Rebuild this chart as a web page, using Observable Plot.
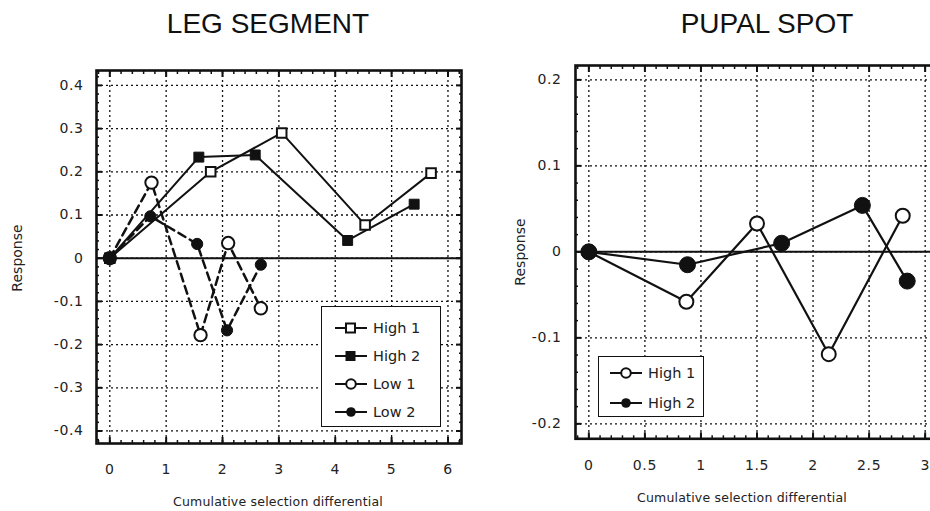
<!DOCTYPE html>
<html><head><meta charset="utf-8">
<script src="https://cdn.jsdelivr.net/npm/d3@7"></script>
<script src="https://cdn.jsdelivr.net/npm/@observablehq/plot@0.6"></script>
<style>
html,body{margin:0;padding:0;background:#fff;}
#wrap{position:relative;width:930px;height:511px;overflow:hidden;background:#fff;font-family:"DejaVu Sans",sans-serif;color:#111;}
.abs{position:absolute;}
.title{font-family:"Liberation Sans",Arial,sans-serif;font-size:28px;color:#111;white-space:nowrap;transform:translateX(-50%);}
.xlab{font-size:12.5px;letter-spacing:0.2px;white-space:nowrap;transform:translateX(-50%);color:#222;}
.ylab{font-size:14px;white-space:nowrap;transform:translate(-50%,-50%) rotate(-90deg);color:#222;}
.legend{border:1.5px solid #111;background:#fff;box-sizing:border-box;}
.legrow{position:absolute;display:flex;align-items:center;font-size:14.5px;white-space:nowrap;color:#222;}
svg text{letter-spacing:0.6px;}
</style></head>
<body><div id="wrap"></div>
<script>
// ---------- data: LEG SEGMENT ----------
const legSeries = ["High 1", "High 2", "Low 1", "Low 2"];
const legHigh1X = [0, 1.79, 3.05, 4.53, 5.70];
const legHigh1Y = [0, 0.200, 0.290, 0.077, 0.197];
const legHigh2X = [0, 1.58, 2.58, 4.22, 5.40];
const legHigh2Y = [0, 0.234, 0.239, 0.041, 0.125];
const legLow1X  = [0, 0.74, 1.61, 2.10, 2.68];
const legLow1Y  = [0, 0.175, -0.178, 0.035, -0.116];
const legLow2X  = [0, 0.72, 1.55, 2.08, 2.68];
const legLow2Y  = [0, 0.097, 0.033, -0.167, -0.015];
const legXTicks = [0, 1, 2, 3, 4, 5, 6];
const legXTickLabels = ["0", "1", "2", "3", "4", "5", "6"];
const legYTicks = [0.4, 0.3, 0.2, 0.1, 0, -0.1, -0.2, -0.3, -0.4];
const legYTickLabels = ["0.4", "0.3", "0.2", "0.1", "0", "-0.1", "-0.2", "-0.3", "-0.4"];

// ---------- data: PUPAL SPOT ----------
const pupSeries = ["High 1", "High 2"];
const pupHigh1X = [0, 0.87, 1.50, 2.14, 2.80];
const pupHigh1Y = [0, -0.058, 0.033, -0.119, 0.042];
const pupHigh2X = [0, 0.88, 1.72, 2.44, 2.84];
const pupHigh2Y = [0, -0.015, 0.010, 0.054, -0.034];
const pupXTicks = [0, 0.5, 1, 1.5, 2, 2.5, 3];
const pupXTickLabels = ["0", "0.5", "1", "1.5", "2", "2.5", "3"];
const pupYTicks = [0.2, 0.1, 0, -0.1, -0.2];
const pupYTickLabels = ["0.2", "0.1", "0", "-0.1", "-0.2"];

const titles = ["LEG SEGMENT", "PUPAL SPOT"];
const xTitle = "Cumulative selection differential";
const yTitle = "Response";

function rows(name, xs, ys) { return xs.map((x, i) => ({series: name, x, y: ys[i]})); }
const legData = [
  ...rows("High 1", legHigh1X, legHigh1Y),
  ...rows("High 2", legHigh2X, legHigh2Y),
  ...rows("Low 1", legLow1X, legLow1Y),
  ...rows("Low 2", legLow2X, legLow2Y)
];
const pupData = [
  ...rows("High 1", pupHigh1X, pupHigh1Y),
  ...rows("High 2", pupHigh2X, pupHigh2Y)
];

const ink = "#111";
function lab(ticks, labels) { return d => labels[ticks.findIndex(t => Math.abs(t - d) < 1e-9)] ?? ""; }
const blank = () => "";

function frameTicks(xMajor, xMinor, yMajor, yMinor) {
  const o = {stroke: ink, tickFormat: blank, label: null, strokeWidth: 1.5};
  return [
    Plot.axisX(xMinor, {...o, anchor: "bottom", tickSize: -3}),
    Plot.axisX(xMinor, {...o, anchor: "top", tickSize: -3}),
    Plot.axisY(yMinor, {...o, anchor: "left", tickSize: -3}),
    Plot.axisY(yMinor, {...o, anchor: "right", tickSize: -3}),
    Plot.axisX(xMajor, {...o, anchor: "bottom", tickSize: -6, strokeWidth: 2}),
    Plot.axisX(xMajor, {...o, anchor: "top", tickSize: -6, strokeWidth: 2}),
    Plot.axisY(yMajor, {...o, anchor: "left", tickSize: -6, strokeWidth: 2}),
    Plot.axisY(yMajor, {...o, anchor: "right", tickSize: -6, strokeWidth: 2})
  ];
}
const gridStyle = {stroke: ink, strokeOpacity: 1, strokeWidth: 1.3, strokeDasharray: "2,3"};
const styleObj = {fontFamily: "DejaVu Sans, sans-serif", fontSize: "14px", color: "#222", background: "transparent", overflow: "visible"};

// ---------- LEG SEGMENT plot ----------
const legPlot = Plot.plot({
  width: 470, height: 511,
  marginLeft: 96, marginRight: 9, marginTop: 70, marginBottom: 68,
  x: {domain: [-0.236, 6.24]},
  y: {domain: [-0.429, 0.4345]},
  style: styleObj,
  marks: [
    Plot.gridX(legXTicks, gridStyle),
    Plot.gridY(legYTicks, gridStyle),
    Plot.ruleY([0], {stroke: ink, strokeWidth: 2}),
    Plot.axisX(legXTicks, {anchor: "bottom", tickSize: 0, tickPadding: 21, tickFormat: lab(legXTicks, legXTickLabels), label: null, fontSize: 14}),
    Plot.axisY(legYTicks, {anchor: "left", tickSize: 0, tickPadding: 13, tickFormat: lab(legYTicks, legYTickLabels), label: null, fontSize: 14}),
    ...frameTicks(legXTicks, d3.range(-0.2, 6.3, 0.2), legYTicks, d3.range(-0.42, 0.43, 0.02)),
    Plot.line(legData.filter(d => d.series.startsWith("High")), {x: "x", y: "y", z: "series", stroke: ink, strokeWidth: 2}),
    Plot.line(legData.filter(d => d.series.startsWith("Low")), {x: "x", y: "y", z: "series", stroke: ink, strokeWidth: 2.5, strokeDasharray: "8,5"}),
    Plot.dot(legData.filter(d => d.series === "High 1"), {x: "x", y: "y", symbol: "square", r: 5.4, fill: "#fff", stroke: ink, strokeWidth: 2}),
    Plot.dot(legData.filter(d => d.series === "High 2"), {x: "x", y: "y", symbol: "square", r: 5.6, fill: ink, stroke: ink, strokeWidth: 1}),
    Plot.dot(legData.filter(d => d.series === "Low 1"), {x: "x", y: "y", r: 6.2, fill: "#fff", stroke: ink, strokeWidth: 2}),
    Plot.dot(legData.filter(d => d.series === "Low 2"), {x: "x", y: "y", r: 5.6, fill: ink, stroke: ink, strokeWidth: 1}),
    Plot.frame({stroke: ink, strokeWidth: 2.6})
  ]
});

// ---------- PUPAL SPOT plot ----------
const pupPlot = Plot.plot({
  width: 475, height: 511,
  marginLeft: 105, marginRight: 7, marginTop: 65, marginBottom: 72.7,
  x: {domain: [-0.119, 3.119]},
  y: {domain: [-0.2174, 0.2167]},
  style: styleObj,
  marks: [
    Plot.gridX(pupXTicks, gridStyle),
    Plot.gridY(pupYTicks, gridStyle),
    Plot.ruleY([0], {stroke: ink, strokeWidth: 2}),
    Plot.axisX(pupXTicks, {anchor: "bottom", tickSize: 0, tickPadding: 21, tickFormat: lab(pupXTicks, pupXTickLabels), label: null, fontSize: 14}),
    Plot.axisY(pupYTicks, {anchor: "left", tickSize: 0, tickPadding: 14, tickFormat: lab(pupYTicks, pupYTickLabels), label: null, fontSize: 14}),
    ...frameTicks(pupXTicks, d3.range(-0.1, 3.15, 0.1), pupYTicks, d3.range(-0.2, 0.21, 0.02)),
    Plot.line(pupData, {x: "x", y: "y", z: "series", stroke: ink, strokeWidth: 2.2}),
    Plot.dot(pupData.filter(d => d.series === "High 1"), {x: "x", y: "y", r: 7, fill: "#fff", stroke: ink, strokeWidth: 2}),
    Plot.dot(pupData.filter(d => d.series === "High 2"), {x: "x", y: "y", r: 8, fill: ink, stroke: ink, strokeWidth: 1}),
    Plot.frame({stroke: ink, strokeWidth: 2.6})
  ]
});

const wrap = document.getElementById("wrap");
function place(el, left, top) { el.style.position = "absolute"; el.style.left = left + "px"; el.style.top = top + "px"; wrap.appendChild(el); return el; }
place(legPlot, 0, 0);
place(pupPlot, 470, 0);

function div(cls, text, left, top) { const d = document.createElement("div"); d.className = "abs " + cls; d.textContent = text; return place(d, left, top); }
div("title", titles[0], 268, 8);
div("title", titles[1], 767, 8);
div("xlab", xTitle, 278, 494);
div("xlab", xTitle, 742, 490);
div("ylab", yTitle, 17, 258);
div("ylab", yTitle, 520, 252);

// ---------- legends ----------
const symSvg = {
  "sq-open": '<rect x="11" y="-4.5" width="9" height="9" fill="#fff" stroke="#111" stroke-width="2"/>',
  "sq-fill": '<rect x="10.5" y="-5" width="10" height="10" fill="#111"/>',
  "ci-open": '<circle cx="16" cy="0" r="4.8" fill="#fff" stroke="#111" stroke-width="2"/>',
  "ci-fill": '<circle cx="16" cy="0" r="4.8" fill="#111"/>'
};
function legend(box, items) {
  const b = document.createElement("div");
  b.className = "abs legend";
  b.style.width = box.w + "px"; b.style.height = box.h + "px";
  place(b, box.x, box.y);
  items.forEach((it, i) => {
    const r = document.createElement("div");
    r.className = "legrow";
    r.innerHTML = `<svg width="34" height="14" viewBox="0 -7 32 14" style="margin-right:5px;overflow:visible"><line x1="0" x2="32" y1="0" y2="0" stroke="#111" stroke-width="2"/>${symSvg[it.sym]}</svg><span>${it.name}</span>`;
    r.style.left = (box.lx - box.x) + "px";
    r.style.top = (box.ry[i] - box.y - 10) + "px";
    b.appendChild(r);
  });
}
legend({x: 321, y: 306, w: 120, h: 121, lx: 333, ry: [329, 357, 385, 413]},
  [{name: legSeries[0], sym: "sq-open"}, {name: legSeries[1], sym: "sq-fill"}, {name: legSeries[2], sym: "ci-open"}, {name: legSeries[3], sym: "ci-fill"}]);
legend({x: 598, y: 356, w: 106, h: 61, lx: 608, ry: [374, 404]},
  [{name: pupSeries[0], sym: "ci-open"}, {name: pupSeries[1], sym: "ci-fill"}]);
</script>
</body></html>
